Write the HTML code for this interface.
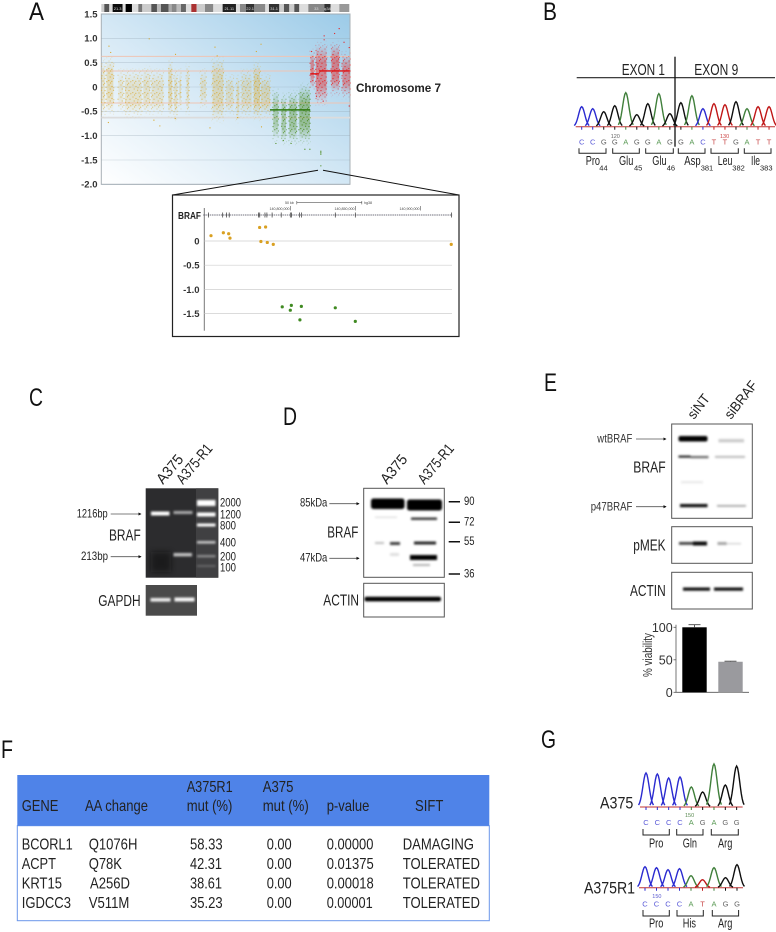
<!DOCTYPE html>
<html lang="en">
<head>
<meta charset="utf-8">
<title>BRAF figure</title>
<style>
html,body{margin:0;padding:0;background:#fff;width:776px;height:932px;overflow:hidden}
svg{display:block}
text{font-family:"Liberation Sans",sans-serif;fill:#222}
.b{font-weight:bold;fill:#333}
.p{font-size:25px;fill:#111}
.lab{font-size:16px;fill:#222}
.sm{font-size:12.5px;fill:#333}
.t{font-size:16px;fill:#2a2a2a}
.h{font-size:16px;fill:#f0f5ff}
.bl{font-size:12px;fill:#333}
</style>
</head>
<body>
<svg id="fig" xmlns="http://www.w3.org/2000/svg" width="776" height="932" viewBox="0 0 776 932">
<defs>
<linearGradient id="plotBg" x1="0" y1="1" x2="1" y2="0">
<stop offset="0" stop-color="#ffffff"/><stop offset=".45" stop-color="#d8eaf6"/><stop offset="1" stop-color="#9ccbe8"/>
</linearGradient>
<linearGradient id="fadeY" x1="0" y1="0" x2="0" y2="1">
<stop offset="0" stop-color="#d9a72a" stop-opacity="0"/><stop offset=".3" stop-color="#d9a72a" stop-opacity=".8"/><stop offset=".7" stop-color="#d9a72a" stop-opacity=".8"/><stop offset="1" stop-color="#d9a72a" stop-opacity="0"/>
</linearGradient>
<linearGradient id="fadeG" x1="0" y1="0" x2="0" y2="1">
<stop offset="0" stop-color="#4c8a1c" stop-opacity="0"/><stop offset=".3" stop-color="#4c8a1c" stop-opacity=".85"/><stop offset=".7" stop-color="#4c8a1c" stop-opacity=".85"/><stop offset="1" stop-color="#4c8a1c" stop-opacity="0"/>
</linearGradient>
<linearGradient id="fadeR" x1="0" y1="0" x2="0" y2="1">
<stop offset="0" stop-color="#e81c1c" stop-opacity="0"/><stop offset=".3" stop-color="#e81c1c" stop-opacity=".85"/><stop offset=".7" stop-color="#e81c1c" stop-opacity=".85"/><stop offset="1" stop-color="#e81c1c" stop-opacity="0"/>
</linearGradient>
<linearGradient id="fadeMaskGrad" x1="0" y1="0" x2="0" y2="1">
<stop offset="0" stop-color="#000"/><stop offset=".25" stop-color="#fff"/><stop offset=".75" stop-color="#fff"/><stop offset="1" stop-color="#000"/>
</linearGradient>
<mask id="fadeMask" maskContentUnits="objectBoundingBox" x="0" y="0" width="1" height="1">
<rect x="0" y="0" width="1" height="1" fill="url(#fadeMaskGrad)"/>
</mask>
<filter id="b1" x="-20%" y="-100%" width="140%" height="300%"><feGaussianBlur stdDeviation="1.1"/></filter>
<filter id="b2" x="-30%" y="-30%" width="160%" height="160%"><feGaussianBlur stdDeviation="3"/></filter>
<filter id="s" x="-5%" y="-5%" width="110%" height="110%"><feGaussianBlur stdDeviation=".35"/></filter>
<marker id="ah" viewBox="0 0 6 6" refX="5" refY="3" markerWidth="4" markerHeight="4" orient="auto"><path d="M0 0L6 3L0 6z" fill="#111"/></marker>
</defs>

<!-- panel letters -->
<text class="p" x="29" y="20" textLength="15" lengthAdjust="spacingAndGlyphs">A</text>
<text class="p" x="543" y="20" textLength="14" lengthAdjust="spacingAndGlyphs">B</text>
<text class="p" x="29" y="406" textLength="14" lengthAdjust="spacingAndGlyphs">C</text>
<text class="p" x="283" y="425" textLength="14" lengthAdjust="spacingAndGlyphs">D</text>
<text class="p" x="544" y="391" textLength="13" lengthAdjust="spacingAndGlyphs">E</text>
<text class="p" x="1" y="758" textLength="12" lengthAdjust="spacingAndGlyphs">F</text>
<text class="p" x="541" y="748" textLength="15" lengthAdjust="spacingAndGlyphs">G</text>

<!-- panel A -->
<g id="panelA" filter="url(#s)">
<rect x="101.3" y="14" width="248.7" height="170.3" fill="url(#plotBg)" stroke="#a8b0b6" stroke-width="1"/>
<g id="ideogram"></g>
<g id="grid"></g>
<g id="bands"></g>
<g id="outliers"></g>
<g id="segments"></g>
<g id="ylabels"></g>
</g>
<text class="b" x="356" y="92" font-size="12" style="fill:#222" textLength="85" lengthAdjust="spacingAndGlyphs">Chromosome 7</text>

<path d="M318 170.3L172.5 195M323 170.3L459 195" fill="none" stroke="#111" stroke-width="1"/>
<rect x="172.5" y="195" width="286.5" height="141.5" fill="#fff" stroke="#222" stroke-width="1.2"/>
<g id="inset" filter="url(#s)"></g>
<text x="178" y="219" font-size="10.5" style="fill:#222;font-weight:bold" textLength="23" lengthAdjust="spacingAndGlyphs">BRAF</text>

<!-- panel B -->
<g>
<text class="lab" x="621.7" y="75" textLength="43.3" lengthAdjust="spacingAndGlyphs">EXON 1</text>
<text class="lab" x="694.3" y="75" textLength="44" lengthAdjust="spacingAndGlyphs">EXON 9</text>
<line x1="576.7" x2="775" y1="77.7" y2="77.7" stroke="#222" stroke-width="1.2"/>
<g id="traceB" filter="url(#s)"></g>
<line x1="675" x2="675" y1="56.7" y2="146.7" stroke="#111" stroke-width="1.3"/>
<text x="610.7" y="138" font-size="5.5" style="fill:#666">120</text>
<text x="720" y="138" font-size="5.5" style="fill:#c44">130</text>
<path d="M579 148.3v5h27v-5M612.7 148.3v5h26.6v-5M645.7 148.3v5h27.6v-5M678.3 148.3v5h26.7v-5M711 148.3v5h27.3v-5M744.3 148.3v5h26.7v-5" fill="none" stroke="#222" stroke-width="1"/>
<g class="sm">
<text x="585.7" y="165" textLength="14.3" lengthAdjust="spacingAndGlyphs">Pro</text><text x="599.3" y="170.7" font-size="7.5">44</text>
<text x="619" y="165" textLength="14.3" lengthAdjust="spacingAndGlyphs">Glu</text><text x="634" y="170.7" font-size="7.5">45</text>
<text x="652.3" y="165" textLength="14.3" lengthAdjust="spacingAndGlyphs">Glu</text><text x="666.7" y="170.7" font-size="7.5">46</text>
<text x="684.3" y="165" textLength="16.3" lengthAdjust="spacingAndGlyphs">Asp</text><text x="700.7" y="170.7" font-size="7.5">381</text>
<text x="717.7" y="165" textLength="14.7" lengthAdjust="spacingAndGlyphs">Leu</text><text x="732.3" y="170.7" font-size="7.5">382</text>
<text x="751" y="165" textLength="9" lengthAdjust="spacingAndGlyphs">Ile</text><text x="760" y="170.7" font-size="7.5">383</text>
</g>
</g>

<!-- panel C -->
<g>
<text font-size="15" textLength="33" lengthAdjust="spacingAndGlyphs" transform="translate(163,485) rotate(-50)">A375</text>
<text font-size="15" textLength="47" lengthAdjust="spacingAndGlyphs" transform="translate(183,485) rotate(-50)">A375-R1</text>
<rect x="145.7" y="488.3" width="72.6" height="89.4" fill="#2c2c2e"/>
<rect x="196" y="488.3" width="22.3" height="89.4" fill="#404042"/>
<rect x="151" y="552" width="20" height="20" fill="#0e0e10" opacity=".55" filter="url(#b2)"/>
<g filter="url(#b1)" fill="#fff">
<rect x="151" y="511.5" width="18.5" height="4"/>
<rect x="173.5" y="511" width="19" height="3" opacity=".6"/>
<rect x="173.5" y="553" width="18.5" height="3.4" opacity=".7"/>
<rect x="197" y="500" width="18.5" height="6"/>
<rect x="197" y="512.5" width="18.5" height="4"/>
<rect x="197" y="523.5" width="18.5" height="3"/>
<rect x="197" y="541" width="18.5" height="2.6" opacity=".7"/>
<rect x="197" y="555" width="18.5" height="2.4" opacity=".4"/>
<rect x="197" y="565" width="18.5" height="2" opacity=".2"/>
</g>
<rect x="145.7" y="585" width="51.3" height="30.7" fill="#4a4a4a"/>
<g filter="url(#b1)" fill="#fff">
<rect x="150.5" y="598" width="20" height="3.6" opacity=".9"/>
<rect x="174.5" y="597.5" width="20" height="4" opacity=".95"/>
</g>
<g class="bl">
<text x="76.7" y="517.3" textLength="31" lengthAdjust="spacingAndGlyphs">1216bp</text>
<text x="81" y="560" textLength="27" lengthAdjust="spacingAndGlyphs">213bp</text>
<text x="220" y="506.7" textLength="21" lengthAdjust="spacingAndGlyphs">2000</text>
<text x="220" y="518.7" textLength="21" lengthAdjust="spacingAndGlyphs">1200</text>
<text x="220" y="529.5" textLength="16" lengthAdjust="spacingAndGlyphs">800</text>
<text x="220" y="546.7" textLength="16" lengthAdjust="spacingAndGlyphs">400</text>
<text x="220" y="560.7" textLength="16" lengthAdjust="spacingAndGlyphs">200</text>
<text x="220" y="571.3" textLength="16" lengthAdjust="spacingAndGlyphs">100</text>
</g>
<line x1="110.7" x2="141" y1="514" y2="514" stroke="#555" stroke-width=".8" marker-end="url(#ah)"/>
<line x1="110.7" x2="141" y1="556.7" y2="556.7" stroke="#555" stroke-width=".8" marker-end="url(#ah)"/>
<text class="lab" x="109" y="540.7" textLength="31.7" lengthAdjust="spacingAndGlyphs">BRAF</text>
<text class="lab" x="98.3" y="606" textLength="42.3" lengthAdjust="spacingAndGlyphs">GAPDH</text>
</g>

<!-- panel D -->
<g>
<text font-size="15" textLength="33" lengthAdjust="spacingAndGlyphs" transform="translate(387,485) rotate(-50)">A375</text>
<text font-size="15" textLength="47" lengthAdjust="spacingAndGlyphs" transform="translate(424.5,485) rotate(-50)">A375-R1</text>
<rect x="363.7" y="488.3" width="80.6" height="89" fill="#fff" stroke="#555" stroke-width="1"/>
<g filter="url(#b1)" fill="#000">
<rect x="371" y="498.5" width="33.5" height="10.5" rx="2.5"/>
<rect x="407" y="499.5" width="35" height="11" rx="2.5"/>
<rect x="411" y="517.5" width="26" height="2.4" opacity=".8"/>
<rect x="375" y="516.5" width="22" height="1.5" opacity=".12"/>
<rect x="375" y="542" width="9" height="2" opacity=".25"/>
<rect x="390" y="542" width="10" height="3" opacity=".75"/>
<rect x="414" y="541.5" width="22" height="3" opacity=".85"/>
<rect x="410" y="555" width="27" height="5"/>
<rect x="390" y="553" width="9" height="3" opacity=".12"/>
<rect x="413" y="564" width="17" height="2" opacity=".3"/>
</g>
<rect x="363.7" y="583.3" width="80.6" height="33.7" fill="#fff" stroke="#555" stroke-width="1"/>
<rect x="364.5" y="596.8" width="76.5" height="4.6" fill="#000" rx="2" filter="url(#b1)"/>
<path d="M448.7 501.7h11.3M448.7 522.3h11.3M448.7 541.7h11.3M448.7 574h11.3" stroke="#111" stroke-width="1.5"/>
<g class="bl">
<text x="464" y="505" textLength="10.5" lengthAdjust="spacingAndGlyphs">90</text>
<text x="464" y="525.7" textLength="10.5" lengthAdjust="spacingAndGlyphs">72</text>
<text x="464" y="545" textLength="10.5" lengthAdjust="spacingAndGlyphs">55</text>
<text x="464" y="577.3" textLength="10.5" lengthAdjust="spacingAndGlyphs">36</text>
<text x="300" y="506.7" textLength="27.3" lengthAdjust="spacingAndGlyphs">85kDa</text>
<text x="300" y="561.3" textLength="27.3" lengthAdjust="spacingAndGlyphs">47kDa</text>
</g>
<line x1="329.3" x2="359" y1="503.7" y2="503.7" stroke="#555" stroke-width=".8" marker-end="url(#ah)"/>
<line x1="329.3" x2="359" y1="558.3" y2="558.3" stroke="#555" stroke-width=".8" marker-end="url(#ah)"/>
<text class="lab" x="327.3" y="537.3" textLength="31" lengthAdjust="spacingAndGlyphs">BRAF</text>
<text class="lab" x="323.3" y="605.7" textLength="35.7" lengthAdjust="spacingAndGlyphs">ACTIN</text>
</g>

<!-- panel E -->
<g>
<text font-size="14" textLength="27" lengthAdjust="spacingAndGlyphs" transform="translate(694,420) rotate(-52)">siNT</text>
<text font-size="14" textLength="44" lengthAdjust="spacingAndGlyphs" transform="translate(731,420) rotate(-52)">siBRAF</text>
<rect x="671.7" y="424" width="80.6" height="94.3" fill="#fff" stroke="#555" stroke-width="1"/>
<g filter="url(#b1)" fill="#000">
<rect x="678.5" y="436" width="29" height="5.5" rx="2"/>
<rect x="718.5" y="439" width="25.5" height="3.4" opacity=".2"/>
<rect x="678.5" y="455.5" width="12" height="2.2" opacity=".85"/>
<rect x="690.5" y="456" width="18" height="2.2" opacity=".6"/>
<rect x="715" y="456" width="30" height="1.8" opacity=".3"/>
<rect x="681" y="481" width="22" height="2.5" opacity=".08"/>
<rect x="680" y="504" width="27.5" height="3.2" opacity=".95"/>
<rect x="717" y="505" width="29" height="1.8" opacity=".35"/>
</g>
<rect x="671.7" y="526.7" width="80.6" height="36.6" fill="#fff" stroke="#555" stroke-width="1"/>
<g filter="url(#b1)" fill="#000">
<rect x="679" y="542" width="14" height="2.8" opacity=".75"/>
<rect x="693" y="541.5" width="14" height="4" opacity=".95"/>
<rect x="717.5" y="542" width="9" height="3" opacity=".35"/>
<rect x="726" y="543" width="15" height="1.4" opacity=".18"/>
</g>
<rect x="671.7" y="572.3" width="80.6" height="36.7" fill="#fff" stroke="#555" stroke-width="1"/>
<g filter="url(#b1)" fill="#000">
<rect x="683" y="587.5" width="27" height="3.2" opacity=".95"/>
<rect x="714" y="587.5" width="29" height="3.2" opacity=".95"/>
</g>
<text x="597.3" y="442.3" font-size="12" style="fill:#333" textLength="35" lengthAdjust="spacingAndGlyphs">wtBRAF</text>
<text x="590.7" y="510.7" font-size="12" style="fill:#333" textLength="41.7" lengthAdjust="spacingAndGlyphs">p47BRAF</text>
<line x1="636" x2="666" y1="439" y2="439" stroke="#555" stroke-width=".8" marker-end="url(#ah)"/>
<line x1="636" x2="666" y1="506.7" y2="506.7" stroke="#555" stroke-width=".8" marker-end="url(#ah)"/>
<text class="lab" x="633.3" y="472.7" textLength="32.3" lengthAdjust="spacingAndGlyphs">BRAF</text>
<text class="lab" x="633.3" y="550.7" textLength="32.3" lengthAdjust="spacingAndGlyphs">pMEK</text>
<text class="lab" x="630" y="596" textLength="35.7" lengthAdjust="spacingAndGlyphs">ACTIN</text>
<g id="barChart"></g>
<text font-size="12.5" style="fill:#333" transform="translate(652,677) rotate(-90)" textLength="44" lengthAdjust="spacingAndGlyphs">% viability</text>
</g>

<!-- panel F -->
<g>
<rect x="17.3" y="825.7" width="472" height="95" fill="#fff" stroke="#6a96ea" stroke-width="1"/>
<rect x="17.3" y="775" width="472" height="50.7" fill="#4f83e8"/>
<g class="h">
<text x="21.7" y="811" textLength="36.7" lengthAdjust="spacingAndGlyphs">GENE</text>
<text x="85" y="811" textLength="63" lengthAdjust="spacingAndGlyphs">AA change</text>
<text x="186.7" y="792" textLength="46" lengthAdjust="spacingAndGlyphs">A375R1</text>
<text x="186.7" y="811" textLength="45.7" lengthAdjust="spacingAndGlyphs">mut (%)</text>
<text x="262.7" y="792" textLength="30.7" lengthAdjust="spacingAndGlyphs">A375</text>
<text x="262.7" y="811" textLength="46" lengthAdjust="spacingAndGlyphs">mut (%)</text>
<text x="326.7" y="811" textLength="42.7" lengthAdjust="spacingAndGlyphs">p-value</text>
<text x="415" y="811" textLength="28.3" lengthAdjust="spacingAndGlyphs">SIFT</text>
</g>
<g class="t">
<text x="21.7" y="849.7" textLength="51" lengthAdjust="spacingAndGlyphs">BCORL1</text>
<text x="88.7" y="849.7" textLength="48.7" lengthAdjust="spacingAndGlyphs">Q1076H</text>
<text x="190" y="849.7" textLength="32.7" lengthAdjust="spacingAndGlyphs">58.33</text>
<text x="266.7" y="849.7" textLength="25" lengthAdjust="spacingAndGlyphs">0.00</text>
<text x="326.7" y="849.7" textLength="46.7" lengthAdjust="spacingAndGlyphs">0.00000</text>
<text x="402.7" y="849.7" textLength="71.3" lengthAdjust="spacingAndGlyphs">DAMAGING</text>

<text x="21.7" y="869" textLength="34.3" lengthAdjust="spacingAndGlyphs">ACPT</text>
<text x="88.7" y="869" textLength="33.3" lengthAdjust="spacingAndGlyphs">Q78K</text>
<text x="190" y="869" textLength="32" lengthAdjust="spacingAndGlyphs">42.31</text>
<text x="266.7" y="869" textLength="25" lengthAdjust="spacingAndGlyphs">0.00</text>
<text x="326.7" y="869" textLength="47" lengthAdjust="spacingAndGlyphs">0.01375</text>
<text x="402.7" y="869" textLength="77.3" lengthAdjust="spacingAndGlyphs">TOLERATED</text>

<text x="21.7" y="888.7" textLength="40.3" lengthAdjust="spacingAndGlyphs">KRT15</text>
<text x="90" y="888.7" textLength="40" lengthAdjust="spacingAndGlyphs">A256D</text>
<text x="190" y="888.7" textLength="32" lengthAdjust="spacingAndGlyphs">38.61</text>
<text x="266.7" y="888.7" textLength="25" lengthAdjust="spacingAndGlyphs">0.00</text>
<text x="326.7" y="888.7" textLength="47" lengthAdjust="spacingAndGlyphs">0.00018</text>
<text x="402.7" y="888.7" textLength="77.3" lengthAdjust="spacingAndGlyphs">TOLERATED</text>

<text x="21.7" y="908" textLength="49.3" lengthAdjust="spacingAndGlyphs">IGDCC3</text>
<text x="88.7" y="908" textLength="40.7" lengthAdjust="spacingAndGlyphs">V511M</text>
<text x="190" y="908" textLength="32.7" lengthAdjust="spacingAndGlyphs">35.23</text>
<text x="266.7" y="908" textLength="25" lengthAdjust="spacingAndGlyphs">0.00</text>
<text x="326.7" y="908" textLength="46" lengthAdjust="spacingAndGlyphs">0.00001</text>
<text x="402.7" y="908" textLength="77.3" lengthAdjust="spacingAndGlyphs">TOLERATED</text>
</g>
</g>

<!-- panel G -->
<g>
<text x="600" y="808.3" font-size="17" style="fill:#222" textLength="33.3" lengthAdjust="spacingAndGlyphs">A375</text>
<text x="584" y="893.3" font-size="17" style="fill:#222" textLength="51" lengthAdjust="spacingAndGlyphs">A375R1</text>
<g id="traceG1" filter="url(#s)"></g>
<g id="traceG2" filter="url(#s)"></g>
<text x="685" y="817" font-size="5.5" style="fill:#5a8a50">150</text>
<text x="652.3" y="898" font-size="5.5" style="fill:#5a5ad0">150</text>
<path d="M643 829v6h26.3v-6M676.7 829v6h26.3v-6M711.3 829v6h27v-6M643 910v6h26.3v-6M677 910v6h26.3v-6M712.3 910v6h26.3v-6" fill="none" stroke="#222" stroke-width="1"/>
<g class="sm">
<text x="649" y="847.7" textLength="14.3" lengthAdjust="spacingAndGlyphs">Pro</text>
<text x="682.7" y="847.7" textLength="14.3" lengthAdjust="spacingAndGlyphs">Gln</text>
<text x="718" y="847.7" textLength="14.3" lengthAdjust="spacingAndGlyphs">Arg</text>
<text x="649" y="927.7" textLength="14.3" lengthAdjust="spacingAndGlyphs">Pro</text>
<text x="682.7" y="927.7" textLength="13.3" lengthAdjust="spacingAndGlyphs">His</text>
<text x="718" y="927.7" textLength="14.3" lengthAdjust="spacingAndGlyphs">Arg</text>
</g>
</g>
</svg>

<script>
// ---- Panel A data (chromosome position in Mb, log ratio) ----
var cloudStart = [0,3.4,10.9,15.1,26.8,32.1,42.8,46.6,49.8,54.5,63.4,71,79.6,86.4,89.6,97.4,101.9,109.8,115.1,120,126.4,133.6,137,147,154];
var cloudEnd   = [2.3,7.7,14,25.7,31,39.6,45.3,48.5,50.9,56,66.8,77.9,84.3,88.1,96,101.3,107.7,113,117.9,124.7,133.2,135.7,143.8,151.9,158.7];
var cloudHigh  = [0.5,0.55,0.3,0.3,0.35,0.3,0.5,0.3,0.3,0.4,0.3,0.55,0.2,0.2,0.3,0.45,0.2,-0.1,-0.2,-0.15,0,0.7,0.85,0.85,0.65];
var cloudLow   = [-0.55,-0.5,-0.45,-0.55,-0.5,-0.5,-0.55,-0.6,-0.4,-0.5,-0.35,-0.65,-0.5,-0.65,-0.55,-0.6,-0.55,-1.05,-1.1,-1.1,-1.1,0,-0.3,-0.1,-0.15];
var cloudDensity = [0.55,0.8,0.45,0.55,0.55,0.5,0.85,0.6,0.7,0.6,0.5,0.75,0.5,0.7,0.55,1,0.7,0.7,0.75,0.85,1,0.9,0.9,0.95,0.8];
var cloudClass = ['y','y','y','y','y','y','y','y','y','y','y','y','y','y','y','y','y','g','g','g','g','r','r','r','r'];
var outlierMb = [4.9,6,30.6,47.4,72.6,74,102,99,4.5,37.4,69.4,102.3,33.6,47.2,87,111.5,116.2,121.2,130,133.2,140.2,140.2,140.2,140.2,151.9,149,142.3,142.3,155,158.3,134.3,141.7,137.4,158.3];
var outlierVal = [0.84,0.71,0.99,0.67,0.82,0.64,0.88,0.73,-0.73,-0.8,-0.84,-0.82,-0.68,-0.65,-0.63,-1.16,-1.1,-1.16,-1.28,-1.28,-1.32,-1.35,-1.38,-1.62,1.2,1.1,1.05,0.97,0.92,0.81,0.73,-0.29,-0.19,-0.39];
var outlierClass = ['y','y','y','y','y','y','y','y','y','y','y','y','y','y','y','g','g','g','g','g','g','g','g','g','r','r','r','r','r','r','r','r','r','r'];
var segStart = [107.7,133.4,139];
var segEnd   = [133.4,139,158.7];
var segVal   = [-0.47,0.27,0.33];
var segClass = ['g','r','r'];
var yTicksA = [1.5,1,0.5,0,-0.5,-1,-1.5,-2];
var yTickTextA = ['1.5','1.0','0.5','0','-0.5','-1.0','-1.5','-2.0'];
var pinkLevels = [0.63,0.33,-0.33];
var ideoWidths = [9,15,10,30,9,19,19,12,27,17,12,23,9,15,13,15,16,16,25,25,28,40,12,18,25,33,11,31,14,16,15,15,27,48,19,26,30];
var ideoShades = ['#ccc','#555','#ddd','#111','#ddd','#000','#ddd','#777','#ccc','#555','#bbb','#555','#aaa','#888','#bbb','#666','#ddd','#a33','#ccc','#888','#ddd','#222','#ddd','#888','#333','#888','#ddd','#333','#ccc','#555','#ccc','#555','#ddd','#888','#333','#ddd','#999'];
var ideoLabels = {3:'21.3',21:'21.11',24:'22.1',27:'31.1',33:'33',34:'q34',35:'36'};

// ---- Inset data (genomic kb offset, log ratio) ----
var insetKb  = [739,748.5,752.6,753.6,776.4,781,777.4,782.3,786.9,923.8,793.8,800.8,800,808.5,807.4,834.6,850];
var insetVal = [0.11,0.17,0.15,0.06,0.28,0.29,-0.01,-0.03,-0.07,-0.07,-1.36,-1.33,-1.43,-1.35,-1.63,-1.38,-1.66];
var insetClass = ['y','y','y','y','y','y','y','y','y','y','g','g','g','g','g','g','g'];
var insetYTicks = [0,-0.5,-1,-1.5];
var insetYText = ['0','-0.5','-1.0','-1.5'];
var exonKb = [737,748,751,753,775.5,776.5,780.5,782,786,793,800,801,807,808.5,834.6,850,924];
var coordKb = [800,850,900];
var coordText = ['140,800,000','140,850,000','140,900,000'];

// ---- Chromatogram data ----
var basesB = ['C','C','G','G','A','G','G','A','G','G','A','C','T','T','G','A','T','T'];
var heightsB = [20,18,15,21,34,12,23,33,13,24,31,18,23,22,25,18,20,20];
var basesG1 = ['C','C','C','C','A','G','A','G','G'];
var heightsG1 = [34,33,29,30,20,15,43,22,41];
var basesG2 = ['C','C','C','C','A','T','A','G','G'];
var heightsG2 = [21,20,18,19,12,8,20,10,23];

// ---- Bar chart data ----
var barNames = ['siNT','siBRAF'];
var barValues = [100,47];
var barErrors = [4,0.8];
var barTicks = [0,50,100];

var NS = 'http://www.w3.org/2000/svg';
function mk(tag, attrs, parent, txt){
  var el = document.createElementNS(NS, tag);
  for (var k in attrs) el.setAttribute(k, attrs[k]);
  if (txt !== undefined) el.textContent = txt;
  parent.appendChild(el);
  return el;
}
var $ = function(id){ return document.getElementById(id); };

// Panel A axes
var xA = function(mb){ return 101.3 + mb * 1.566; };
var yA = function(v){ return 87 - v * 48.66; };
var colA = {y:'#d9a72a', g:'#4c8a1c', r:'#e81c1c'};
var fadeA = {y:'url(#fadeY)', g:'url(#fadeG)', r:'url(#fadeR)'};
var baseOpacity = {y:0.42, g:0.5, r:0.55};

// Speckle texture tiles for the probe clouds
var defs = document.querySelector('defs');
var tileDots = [[1,1],[4,2.5],[7.5,0.8],[10,3.2],[2.2,5],[5.6,6.2],[9,6.6],[0.8,8.6],[3.8,9.4],[7,9],[10.8,9.8],[6,3.8],[2.6,11],[8.6,11.2]];
['y','g','r'].forEach(function(k){
  var pat = mk('pattern', {id:'dots-'+k, width:12, height:12, patternUnits:'userSpaceOnUse'}, defs);
  tileDots.forEach(function(d){
    mk('circle', {cx:d[0], cy:d[1], r:0.62, fill:colA[k]}, pat);
  });
});

// ideogram
var ix = 101.3;
ideoWidths.forEach(function(w, i){
  var px = w / 3;
  var el = mk('rect', {x:ix, y:4, width:px, height:8, fill:ideoShades[i]}, $('ideogram'));
  
  
  if (ideoLabels[i]) {
    var t = mk('text', {x:ix + px/2, y:10, 'font-size':4, 'text-anchor':'middle', style:'fill:#ddd'}, $('ideogram'), ideoLabels[i]);
    
    
  }
  ix += px;
});

// gridlines and labels
yTicksA.forEach(function(v, i){
  var g = mk('line', {x1:101.3, x2:350, y1:yA(v), y2:yA(v), stroke:'#8fa0ad', 'stroke-width':0.6, 'stroke-opacity':0.45}, $('grid'));
  
  
  var t = mk('text', {x:97.5, y:yA(v)+3.3, 'font-size':9.5, 'text-anchor':'end', 'class':'b'}, $('ylabels'), yTickTextA[i]);
  
  
});
pinkLevels.forEach(function(v){
  var p = mk('line', {x1:101.3, x2:350, y1:yA(v), y2:yA(v), stroke:'#eec4b4', 'stroke-width':1}, $('grid'));
  
  
});
var pg = mk('line', {x1:101.3, x2:350, y1:yA(-0.63), y2:yA(-0.63), stroke:'#dcdcdc', 'stroke-width':1.8}, $('grid'));



// clouds
cloudStart.forEach(function(s, i){
  var k = cloudClass[i];
  var x = xA(s), w = xA(cloudEnd[i]) - x;
  var top = yA(cloudHigh[i]), h = yA(cloudLow[i]) - top;
  var r = mk('rect', {x:x, y:top, width:w, height:h, fill:fadeA[k], opacity:cloudDensity[i]*baseOpacity[k]}, $('bands'));
  
  
  var sp = mk('rect', {x:x-1, y:top-6, width:w+2, height:h+12, fill:'url(#dots-'+k+')', mask:'url(#fadeMask)', opacity:0.4+cloudDensity[i]*0.5}, $('bands'));
  
  
});
// outliers
outlierMb.forEach(function(m, i){
  var c = mk('circle', {cx:xA(m), cy:yA(outlierVal[i]), r:0.6, fill:colA[outlierClass[i]]}, $('outliers'));
  
  
});
// segments
segStart.forEach(function(s, i){
  var l = mk('line', {x1:xA(s), x2:xA(segEnd[i]), y1:yA(segVal[i]), y2:yA(segVal[i]), stroke:segClass[i]==='g' ? '#2f7a10' : '#e01010', 'stroke-width':1.4}, $('segments'));
  
  
});

// Inset
var xI = function(kb){ return 290.3 + (kb - 800) * 1.3; };
var yI = function(v){ return 241 - v * 48.4; };
var ig = $('inset');
var axisI = mk('line', {x1:204.3, x2:204.3, y1:208, y2:330.7, stroke:'#777', 'stroke-width':1}, ig);


insetYTicks.forEach(function(v, i){
  var g = mk('line', {x1:204.3, x2:452, y1:yI(v), y2:yI(v), stroke:'#cfcfcf', 'stroke-width':0.7}, ig);
  
  
  var t = mk('text', {x:199.5, y:yI(v)+3.5, 'font-size':9.5, 'text-anchor':'end', 'class':'b'}, ig, insetYText[i]);
  
  
});
var track = mk('line', {x1:xI(733), x2:xI(924.5), y1:215, y2:215, stroke:'#445', 'stroke-width':0.8, 'stroke-dasharray':'1.5 0.7'}, ig);


exonKb.forEach(function(k){
  var e = mk('line', {x1:xI(k), x2:xI(k), y1:212.5, y2:217.5, stroke:'#333', 'stroke-width':0.7}, ig);
  
  
});
coordKb.forEach(function(k, i){
  var c = mk('line', {x1:xI(k), x2:xI(k), y1:206, y2:210.5, stroke:'#555', 'stroke-width':0.6}, ig);
  
  
  var t = mk('text', {x:xI(k)-0.8, y:210, 'font-size':3.6, 'text-anchor':'end', style:'fill:#444'}, ig, coordText[i]);
  
  
});
var scaleBar = mk('path', {d:'M'+xI(805)+' 201v3.4M'+xI(805)+' 202.7H'+xI(855)+'M'+xI(855)+' 201v3.4', stroke:'#555', 'stroke-width':0.6, fill:'none'}, ig);


var kbT = mk('text', {x:285, y:204, 'font-size':3.6, style:'fill:#444'}, ig, '50 kb');


var hgT = mk('text', {x:364, y:204, 'font-size':3.6, style:'fill:#444'}, ig, 'hg38');


insetKb.forEach(function(k, i){
  var c = mk('circle', {cx:xI(k), cy:yI(insetVal[i]), r:1.6, fill:insetClass[i]==='y' ? '#d9a020' : '#3f8a22'}, ig);
  
  
});

// Chromatograms
var baseColor = {A:'#3f7f3a', C:'#2a2ad0', G:'#111', T:'#c01818'};
var letterColor = {A:'#5a9a55', C:'#5a5ad8', G:'#666', T:'#c84a4a'};
function drawTrace(group, bases, heights, x0, dx, base, sigma, letterY){
  var line = mk('line', {x1:x0-6, x2:x0+dx*(bases.length-1)+6, y1:base, y2:base, stroke:'#c03030', 'stroke-width':1}, group);
  
  
  bases.forEach(function(b, i){
    var xc = x0 + i*dx, d = '';
    for (var t = -2.4; t <= 2.41; t += 0.3) {
      var px = xc + t*sigma;
      var py = base - heights[i]*Math.exp(-t*t/2);
      d += (d ? 'L' : 'M') + px.toFixed(2) + ' ' + py.toFixed(2);
    }
    var p = mk('path', {d:d, fill:'none', stroke:baseColor[b], 'stroke-width':1.4}, group);
    
    
    var tick = mk('line', {x1:xc, x2:xc, y1:base, y2:base+3, stroke:baseColor[b], 'stroke-width':1}, group);
    
    
    var l = mk('text', {x:xc, y:letterY, 'font-size':7.5, 'text-anchor':'middle', style:'fill:'+letterColor[b]}, group, b);
    
    
  });
}
drawTrace($('traceB'), basesB, heightsB, 581.7, 11.02, 126.7, 3.1, 144.5);
drawTrace($('traceG1'), basesG1, heightsG1, 646, 11.33, 807, 3.1, 825);
drawTrace($('traceG2'), basesG2, heightsG2, 645, 11.5, 887.7, 3.1, 906.5);

// Bar chart
var yB = function(v){ return 692.3 - v * 0.65; };
var barG = $('barChart');
var barX = [682.3, 718.3];
var barColors = ['#000', '#9a9a9e'];
var ax = mk('path', {d:'M676 '+yB(104)+'V692.3H749', fill:'none', stroke:'#555', 'stroke-width':0.8}, barG);


barTicks.forEach(function(v){
  var tk = mk('line', {x1:673.5, x2:676, y1:yB(v), y2:yB(v), stroke:'#555', 'stroke-width':0.8}, barG);
  
  
  var t = mk('text', {x:672.7, y:yB(v)+4.5, 'font-size':12.5, 'text-anchor':'end', style:'fill:#333'}, barG, String(v));
  
  
});
barNames.forEach(function(n, i){
  var r = mk('rect', {x:barX[i], y:yB(barValues[i]), width:24.4, height:yB(0)-yB(barValues[i]), fill:barColors[i]}, barG);
  
  
  var c = barX[i] + 12.2, top = yB(barValues[i] + barErrors[i]);
  var e = mk('path', {d:'M'+c+' '+yB(barValues[i])+'V'+top+'M'+(c-6)+' '+top+'H'+(c+6), stroke:'#444', 'stroke-width':0.9, fill:'none'}, barG);
  
  
});
</script>
</body>
</html>
